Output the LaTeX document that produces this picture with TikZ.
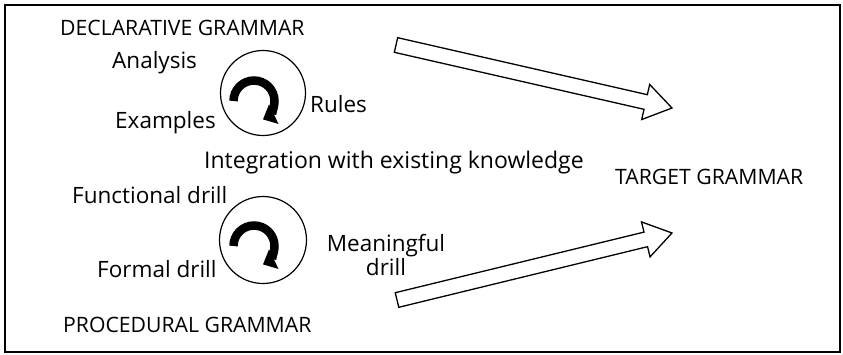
\documentclass[tikz,border=0pt]{standalone}
\usepackage{fontspec}
\setmainfont{Open Sans}
\usetikzlibrary{calc,arrows.meta}
\tikzset{
  lbl/.style={inner sep=0pt, anchor=base west, font=\fontsize{22.5}{20}\selectfont},
  caplbl/.style={inner sep=0pt, anchor=base west, font=\fontsize{21.2}{21}\selectfont},
  cyc/.style={draw, circle, line width=1.2pt, inner sep=0pt, minimum size=85pt},
  turn/.style={line width=8.5pt, -{Triangle[width=21pt,length=12pt]}},
  blockarrow/.style={draw, line width=1.3pt, line join=miter},
}
\newcommand\blkarrow[3]{%
  \coordinate (#3) at ($(#2)!27pt!(#1)$);
  \draw[blockarrow] ($(#1)!7.5pt!90:(#2)$) -- ($(#3)!7.5pt!90:(#2)$) -- ($(#3)!18pt!90:(#2)$) -- (#2)
    -- ($(#3)!18pt!-90:(#2)$) -- ($(#3)!7.5pt!-90:(#2)$) -- ($(#1)!7.5pt!-90:(#2)$) -- cycle;}
\begin{document}
\begin{tikzpicture}[x=1pt,y=1pt]
\useasboundingbox (0,0) rectangle (843,-354);
\draw[line width=2pt] (4.5,-4.5) rectangle (839.5,-351.5);
% top cycle
\node[caplbl] (decl) at (60,-35) {DECLARATIVE GRAMMAR};
\node[lbl] (anal) at (112,-68) {Analysis};
\node[lbl] (rules) at (310,-112) {Rules};
\node[lbl] (ex) at (115,-128) {Examples};
\node[cyc] (c1) at (263,-93) {};
\draw[turn] ($(c1)+(-9,-8)$) ++(180:20.5) arc[start angle=180, end angle=-64, radius=20.5];
\node[lbl, font=\fontsize{23}{20}\selectfont] (integ) at (204,-168) {Integration with existing knowledge};
\node[caplbl] (target) at (615,-184) {TARGET GRAMMAR};
% bottom cycle
\node[lbl] (func) at (72,-203) {Functional drill};
\node[cyc, minimum size=87pt] (c2) at (263,-240) {};
\draw[turn] ($(c2)+(-9,-6)$) ++(180:20.5) arc[start angle=180, end angle=-64, radius=20.5];
\node[lbl] (formal) at (97,-277) {Formal drill};
\node[lbl, anchor=base, align=center] (mean) at (386,-275) {Meaningful\\drill};
\node[caplbl] (proc) at (63,-332) {PROCEDURAL GRAMMAR};
% block arrows
\coordinate (t1) at (396,-45);
\coordinate (h1) at (672,-108);
\blkarrow{t1}{h1}{b1}
\coordinate (t2) at (397,-300);
\coordinate (h2) at (672,-233);
\blkarrow{t2}{h2}{b2}
\end{tikzpicture}
\end{document}
